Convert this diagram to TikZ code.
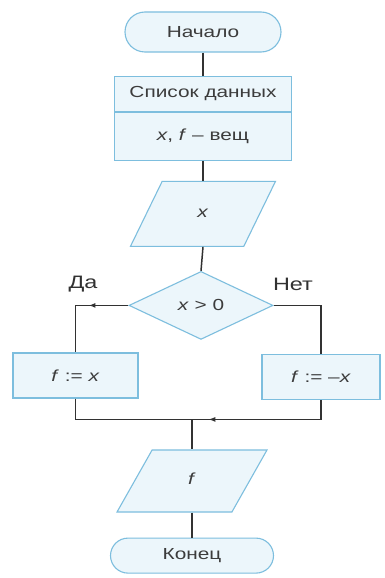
\documentclass[tikz,border=0pt]{standalone}
\usepackage{fontspec}
\setmainfont{Liberation Sans}[FakeStretch=1.3]
\usetikzlibrary{arrows.meta,positioning,shapes.geometric,shapes.misc,decorations.markings}
\definecolor{edgeblue}{RGB}{125,190,222}
\definecolor{fillblue}{RGB}{236,246,251}
\definecolor{ink}{RGB}{60,60,60}
\definecolor{wirecol}{RGB}{50,50,50}

\begin{document}
\begin{tikzpicture}[x=1pt,y=1pt,node distance=0pt,
  box/.style={rectangle,draw=edgeblue,fill=fillblue,line width=1.1pt,
              text=ink,font=\fontsize{16}{19}\selectfont,inner sep=2pt},
  term/.style={box,rounded rectangle},
  io/.style={box,trapezium,text width=60pt,align=center,
             text height=10pt,text depth=3pt},
  decide/.style={box,diamond,inner sep=0pt},
  lbl/.style={text=wirecol,font=\fontsize{18}{21}\selectfont},
  wire/.style={draw=wirecol,line width=1.5pt},
  arrowat/.style={postaction={decorate},decoration={markings,
    mark=at position #1 with {\arrow{Latex[length=7pt,width=5pt]}}}}]
  \useasboundingbox[fill=white] (0,0) rectangle (385,-578);
  % main column
  \node (start) [term,minimum width=160pt,minimum height=40pt] at (203,-32) {Начало};
  \node (list) [box,minimum width=177pt,minimum height=35pt,below=23pt of start] {Список данных};
  \node (vars) [box,minimum width=177pt,minimum height=48pt,below=0pt of list] {\textit{x}, \textit{f} -- вещ};
  \node (input) [io,trapezium left angle=64,trapezium right angle=116,
                 inner xsep=10.8pt,inner ysep=26pt,below=20pt of vars] {\textit{x}};
  \node (test) [decide,minimum width=144pt,minimum height=68pt,below=24pt of input,xshift=-2pt] {\textit{x} > 0};
  % branches
  \node (yes) [box,minimum width=125pt,minimum height=45pt] at (75.5,-375.5) {\textit{f} := \textit{x}};
  \node (no) [box,minimum width=118pt,minimum height=45pt] at (321,-377) {\textit{f} := --\textit{x}};
  \node (da) [lbl] at (83,-284) {Да};
  \node (net) [lbl] at (293,-284) {Нет};
  % output and end
  \node (output) [io,trapezium left angle=60.5,trapezium right angle=119.5,
                  inner xsep=9.9pt,inner ysep=24.5pt] at (192,-481) {\textit{f}};
  \node (stop) [term,minimum width=167pt,minimum height=35pt,below=25pt of output] {Конец};
  \coordinate[above=30pt of output] (merge);
  % connectors
  \draw[wire] (start.south) -- (list.north);
  \draw[wire] (vars.south) -- (input.north);
  \draw[wire] (input.south) -- (test.north);
  \draw[wire,arrowat=0.40] (test.west) -| (yes.north);
  \draw[wire] (test.east) -| (no.north);
  \draw[wire] (yes.south) |- (merge);
  \draw[wire,arrowat=0.89] (no.south) |- (merge);
  \draw[wire] (merge) -- (output.north);
  \draw[wire] (output.south) -- (stop.north);
\end{tikzpicture}
\end{document}
